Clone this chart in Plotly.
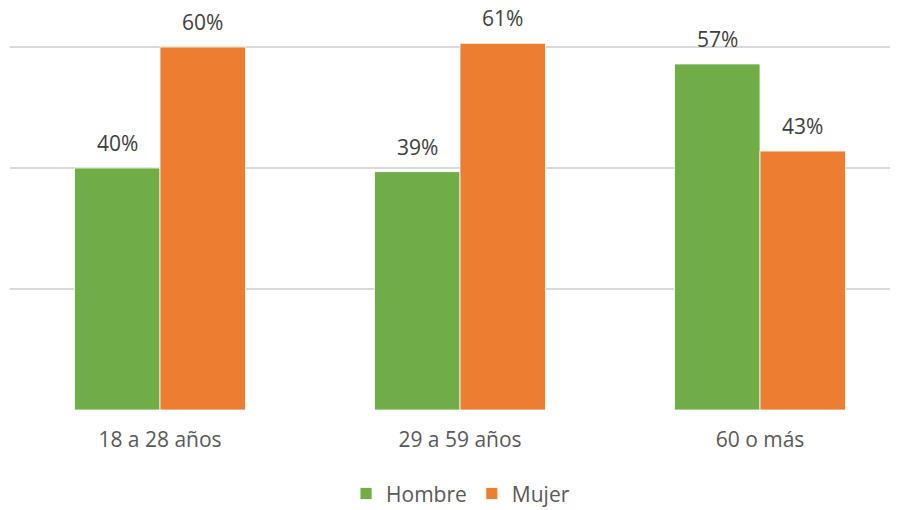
import plotly.graph_objects as go

categories = ["18 a 28 años", "29 a 59 años", "60 o más"]
hombre = [0.40, 0.394, 0.572]
mujer = [0.60, 0.606, 0.428]
series_names = ["Hombre", "Mujer"]
colors = ["#70AD47", "#ED7D31"]

xs = list(range(len(categories)))
fig = go.Figure()
for name, vals, col in zip(series_names, [hombre, mujer], colors):
    fig.add_trace(go.Bar(x=xs, y=vals, name=name, marker=dict(color=col, line=dict(color="white", width=0.8))))

bargap = 0.43
bw = (1 - bargap) / 2
for k, vals in enumerate([hombre, mujer]):
    off = (k - 0.5) * bw
    for i, v in enumerate(vals):
        fig.add_annotation(x=i + off, y=v, text=f"{round(v*100)}%", showarrow=False,
                           yanchor="bottom", yshift=10, borderpad=0,
                           font=dict(family="Open Sans", size=21, color="#404040"))

fig.update_layout(
    width=901, height=510,
    margin=dict(l=10, r=11, t=20, b=100, autoexpand=False),
    plot_bgcolor="white", paper_bgcolor="white",
    barmode="group", bargap=bargap, bargroupgap=0,
    font=dict(family="Open Sans", size=21, color="#595959"),
    showlegend=True,
    legend=dict(orientation="h", x=0.512, xanchor="center", y=-0.215, yanchor="middle",
                font=dict(size=21, color="#595959"), itemwidth=30, traceorder="normal"),
)
fig.update_xaxes(range=[-0.5, -0.5 + 880/300], tickvals=xs, ticktext=categories,
                 showgrid=False, zeroline=False, showline=False, ticks="",
                 ticklabelstandoff=15, tickfont=dict(size=21, color="#595959"))
fig.update_yaxes(range=[0, 390/605], dtick=0.2, tick0=0, showgrid=True, gridcolor="#D9D9D9",
                 gridwidth=1.5, zeroline=False, showticklabels=False, showline=False)

fig.write_html("out.html", config={"displayModeBar": False},
               post_script="document.body.style.margin='0';")
